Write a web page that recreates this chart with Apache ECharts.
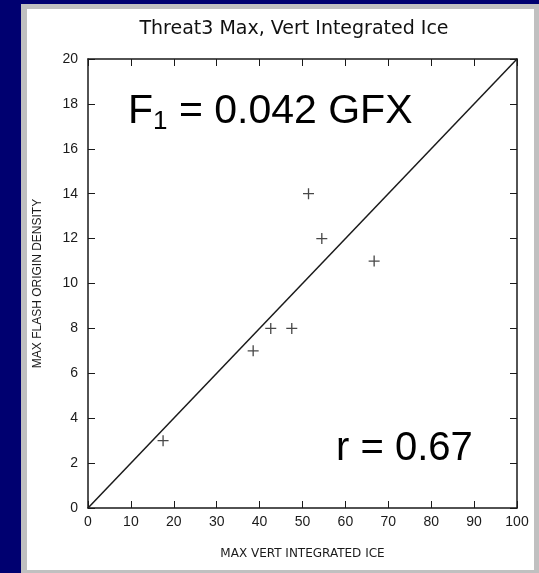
<!DOCTYPE html>
<html>
<head>
<meta charset="utf-8">
<script src="https://cdn.jsdelivr.net/npm/echarts@6/dist/echarts.min.js"></script>
<style>
  html, body { margin: 0; padding: 0; background: #000070; width: 539px; height: 573px; overflow: hidden; }
  #frame { position: absolute; left: 21px; top: 4px; width: 518px; height: 569px; box-sizing: border-box;
           background: #ffffff; border-left: 6px solid #c0c0c0; border-top: 5px solid #c0c0c0;
           border-right: 5px solid #c0c0c0; border-bottom: 3px solid #c0c0c0; }
  #chart { position: absolute; left: 0; top: 0; width: 539px; height: 573px; }
</style>
</head>
<body>
<div id="frame"></div>
<div id="chart"></div>
<script>
// Data
const titleText = 'Threat3 Max, Vert Integrated Ice';
const xAxisName = 'MAX VERT INTEGRATED ICE';
const yAxisName = 'MAX FLASH ORIGIN DENSITY';
const iceValues = [17.5, 38.5, 42.6, 47.5, 51.4, 54.5, 66.7];
const flashValues = [3, 7, 8, 8, 14, 12, 11];
const refLineX = [0, 100];
const refLineY = [0, 20];
const xRange = [0, 100, 10];
const yRange = [0, 20, 2];
const fitLabel = ['F', '1', ' = 0.042 GFX'];
const corrLabel = 'r = 0.67';

const ink = '#1a1a1a';
const crossPath = 'path://M4.4,0h1.2v4.4h4.4v1.2h-4.4v4.4h-1.2v-4.4h-4.4v-1.2h4.4z';

const chart = echarts.init(document.getElementById('chart'), null, { renderer: 'canvas' });

const axisLine = { show: true, onZero: false, lineStyle: { color: ink, width: 1.5 } };
const axisTick = { show: true, inside: true, length: 7, lineStyle: { color: ink, width: 1 } };

chart.setOption({
  backgroundColor: 'transparent',
  animation: false,
  grid: { left: 88, top: 59, right: 22, bottom: 65, containLabel: false },
  xAxis: [
    {
      type: 'value', min: xRange[0], max: xRange[1], interval: xRange[2], position: 'bottom',
      name: xAxisName, nameLocation: 'middle', nameGap: 40,
      nameTextStyle: { fontFamily: 'DejaVu Sans', fontSize: 12, color: ink },
      axisLine: axisLine, axisTick: axisTick, splitLine: { show: false },
      axisLabel: { margin: 7, fontFamily: 'Liberation Sans', fontSize: 14, color: ink }
    },
    {
      type: 'value', min: xRange[0], max: xRange[1], interval: xRange[2], position: 'top',
      axisLine: axisLine, axisTick: axisTick, splitLine: { show: false }, axisLabel: { show: false }
    }
  ],
  yAxis: [
    {
      type: 'value', min: yRange[0], max: yRange[1], interval: yRange[2], position: 'left',
      name: yAxisName, nameLocation: 'middle', nameGap: 44, nameRotate: 90,
      nameTextStyle: { fontFamily: 'Liberation Sans', fontSize: 12, color: ink },
      axisLine: axisLine, axisTick: axisTick, splitLine: { show: false },
      axisLabel: { margin: 10, fontFamily: 'Liberation Sans', fontSize: 14, color: ink }
    },
    {
      type: 'value', min: yRange[0], max: yRange[1], interval: yRange[2], position: 'right',
      axisLine: axisLine, axisTick: axisTick, splitLine: { show: false }, axisLabel: { show: false }
    }
  ],
  series: [
    {
      type: 'line',
      data: refLineX.map((x, i) => [x, refLineY[i]]),
      showSymbol: false, symbol: 'none',
      lineStyle: { color: ink, width: 1.5 },
      silent: true, z: 2
    },
    {
      type: 'scatter',
      data: iceValues.map((x, i) => [x, flashValues[i]]),
      symbol: crossPath, symbolSize: 11,
      itemStyle: { color: ink },
      z: 3
    }
  ],
  graphic: [
    {
      type: 'text', x: 294, y: 29,
      style: { text: titleText, fontFamily: "'DejaVu Sans ExtraLight', 'DejaVu Sans'", fontSize: 19, fill: '#111',
               align: 'center', verticalAlign: 'middle' }
    },
    {
      type: 'text', x: 128, y: 112,
      style: {
        text: '{a|' + fitLabel[0] + '}{s|' + fitLabel[1] + '}{a|' + fitLabel[2] + '}',
        align: 'left', verticalAlign: 'middle', fill: '#000',
        rich: {
          a: { fontFamily: 'Liberation Sans', fontSize: 41, lineHeight: 46, fill: '#000' },
          s: { fontFamily: 'Liberation Sans', fontSize: 26, lineHeight: 18, verticalAlign: 'bottom', fill: '#000' }
        }
      }
    },
    {
      type: 'text', x: 336, y: 449,
      style: { text: corrLabel, fontFamily: 'Liberation Sans', fontSize: 40, fill: '#000',
               align: 'left', verticalAlign: 'middle' }
    }
  ]
});
</script>
</body>
</html>
